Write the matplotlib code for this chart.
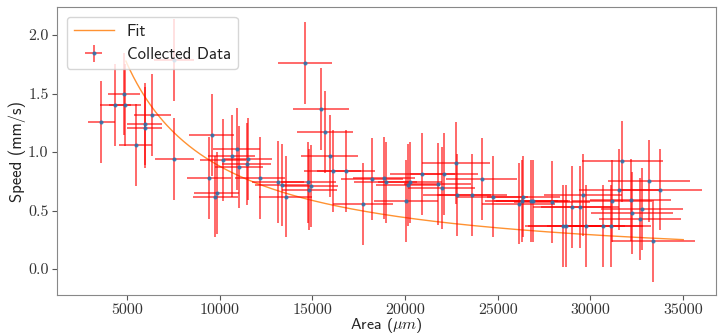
import matplotlib
matplotlib.use("Agg")
import matplotlib.pyplot as plt
import numpy as np
from matplotlib.ticker import FuncFormatter

# Collected data
area = [3635, 4390, 4855, 4890, 5470, 5955, 5955, 6385, 7545, 7565,
        9440, 9570, 9765, 9840, 10200, 10645, 10915, 11060, 11455, 11530,
        12175, 13130, 13345, 13560, 14600, 14780, 14835, 14910, 15450, 15680,
        15950, 16095, 16810, 17745, 18220, 18880, 18955, 20050, 20140, 20265,
        20930, 21760, 21975, 22100, 22730, 22800, 23625, 24130, 24725, 26130,
        26290, 26375, 26790, 26880, 27925, 28535, 28680, 29000, 29435, 29610,
        29740, 30690, 31105, 31180, 31560, 31715, 32165, 32240, 32690, 32795,
        33140, 33390, 33750]
speed = [1.26, 1.40, 1.50, 1.40, 1.06, 1.24, 1.21, 1.32, 1.79, 0.94,
         0.78, 1.145, 0.62, 0.65, 0.93, 0.97, 1.03, 0.87, 0.90, 0.94,
         0.78, 0.745, 0.72, 0.62, 1.76, 0.74, 0.68, 0.71, 1.37, 1.17,
         0.97, 0.84, 0.84, 0.555, 0.77, 0.78, 0.74, 0.58, 0.72, 0.74,
         0.81, 0.73, 0.69, 0.81, 0.91, 0.63, 0.63, 0.77, 0.62, 0.56,
         0.58, 0.62, 0.58, 0.58, 0.57, 0.37, 0.37, 0.53, 0.53, 0.63,
         0.37, 0.37, 0.37, 0.58, 0.68, 0.92, 0.59, 0.48, 0.43, 0.51,
         0.75, 0.24, 0.68]
area_err = [735, 810, 850, 855, 900, 940, 940, 975, 1060, 1060,
            1185, 1195, 1205, 1210, 1230, 1260, 1275, 1285, 1305, 1310,
            1345, 1400, 1410, 1420, 1475, 1485, 1485, 1490, 1515, 1530,
            1540, 1550, 1580, 1625, 1645, 1675, 1680, 1725, 1730, 1735,
            1765, 1800, 1810, 1815, 1840, 1840, 1875, 1895, 1920, 1970,
            1980, 1980, 2000, 2000, 2040, 2060, 2065, 2080, 2090, 2100,
            2105, 2135, 2150, 2155, 2165, 2175, 2190, 2195, 2205, 2210,
            2220, 2230, 2240]
speed_err = 0.35

# Fitted curve speed = k / area
fit_k = 8800
fit_range = (4950, 35000)

plt.rcParams["mathtext.fontset"] = "cm"
plt.rcParams["axes.unicode_minus"] = False

fig = plt.figure(figsize=(7.2, 3.36), dpi=100)
ax = fig.add_axes([0.079, 0.122, 0.915, 0.857])

fit_x = np.linspace(fit_range[0], fit_range[1], 300)
ax.plot(fit_x, fit_k / fit_x, color="C1", lw=1.0, alpha=0.85, label="Fit")
ax.errorbar(area, speed, xerr=area_err, yerr=speed_err, fmt=".", color="C0",
            ms=4, ecolor="red", elinewidth=1.1, alpha=0.75, label="Collected Data")

ax.set_xlim(1230, 36750)
ax.set_ylim(-0.222, 2.24)
ax.set_xticks([5000, 10000, 15000, 20000, 25000, 30000, 35000])
ax.set_yticks([0.0, 0.5, 1.0, 1.5, 2.0])
ax.xaxis.set_major_formatter(FuncFormatter(lambda v, p: f"{v:.0f}"))
ax.yaxis.set_major_formatter(FuncFormatter(lambda v, p: f"{v:.1f}"))
ax.tick_params(labelsize=11.5, colors="#555555", labelcolor="#333333", pad=2.5)
for lab in ax.get_xticklabels() + ax.get_yticklabels():
    lab.set_family("cmr10")
for s in ax.spines.values():
    s.set_color("#888888")

ax.set_xlabel(r"Area ($\mu m$)", family="cmss10", fontsize=11.5, color="#222222")
ax.set_ylabel("Speed (mm/s)", family="cmss10", fontsize=12, color="#222222")
ax.xaxis.set_label_coords(0.5, -0.074)
ax.yaxis.set_label_coords(-0.047, 0.5)

leg = ax.legend(loc="upper left", prop={"family": "cmss10", "size": 12},
                borderaxespad=0.6, handlelength=2.4)
for t in leg.get_texts():
    t.set_color("#222222")

fig.savefig("out.png", dpi=100)
